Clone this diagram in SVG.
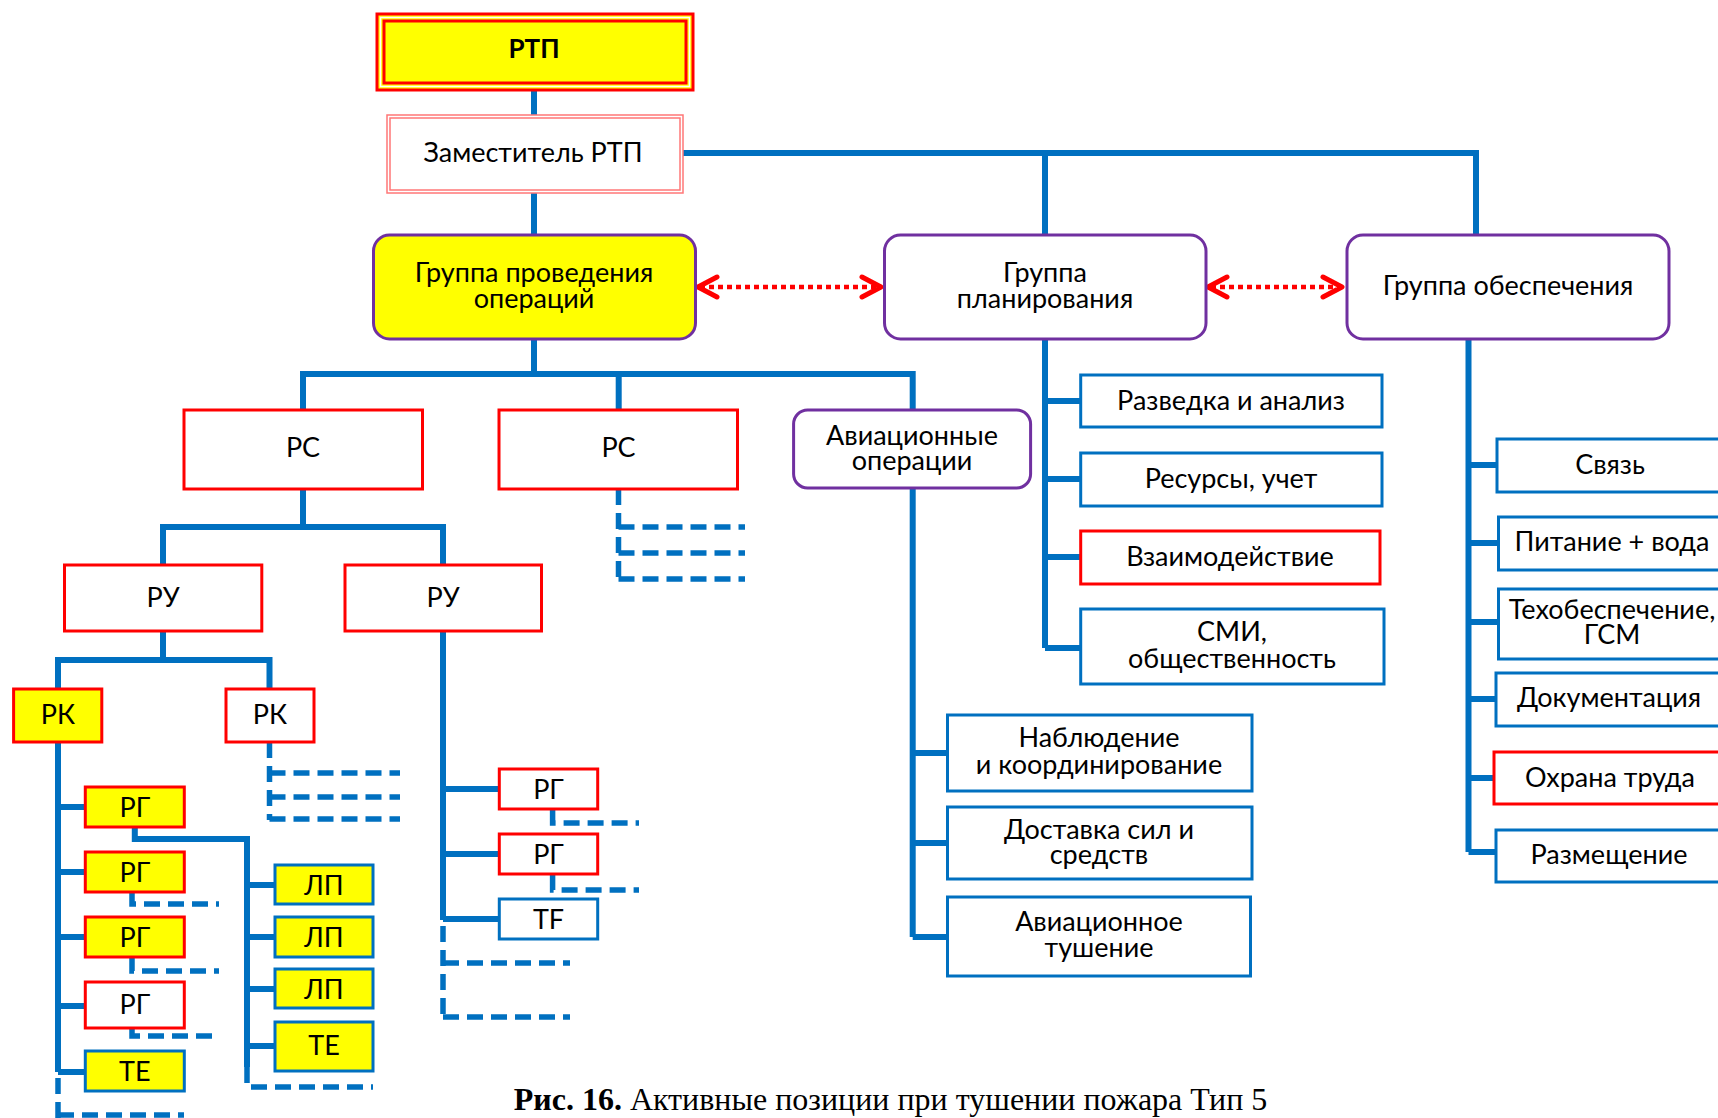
<svg xmlns="http://www.w3.org/2000/svg" width="1718" height="1118" viewBox="0 0 1718 1118">
<style>
.t{font-family:Lato,"Noto Sans",sans-serif;font-size:27px;fill:#000;text-anchor:middle;dominant-baseline:central}
.b{font-weight:bold;font-size:26px}
.c{fill:none;stroke:#0070C0;stroke-width:6}
.d{fill:none;stroke:#0070C0;stroke-width:5.5;stroke-dasharray:16 8}
.rb{fill:#fff;stroke:#FF0000;stroke-width:3}
.ry{fill:#FFFF00;stroke:#FF0000;stroke-width:3}
.bb{fill:#fff;stroke:#0070C0;stroke-width:3}
.by{fill:#FFFF00;stroke:#0070C0;stroke-width:3}
.pb{fill:#fff;stroke:#7030A0;stroke-width:3}
.py{fill:#FFFF00;stroke:#7030A0;stroke-width:3}
.ar{fill:none;stroke:#FF0000;stroke-width:4.5;stroke-dasharray:5 4}
.ah{fill:none;stroke:#FF0000;stroke-width:5;stroke-linecap:round;stroke-linejoin:round}
.cap{font-family:"Liberation Serif",serif;font-size:32px;fill:#000;text-anchor:middle}
</style>
<rect width="1718" height="1118" fill="#fff"/>
<g id="connectors">
<path class="c" d="M534 90V115M534 193V235M683 153H1476V235M1045 153V235"/>
<path class="c" d="M534 339V374M303 410V374H912.7V410M618.7 374V410"/>
<path class="c" d="M303 489V527M163 565V527H443V565"/>
<path class="c" d="M163 631V660M58 689V660H269.5V689"/>
<path class="c" d="M58 742V1072M58 807H86M58 872H86M58 937H86M58 1006H86M58 1072H86"/>
<path class="c" d="M134.8 827V839H247V1067M247 885H275M247 937H275M247 989H275M247 1046H275"/>
<path class="c" d="M443 631V920M443 789H499M443 854H499M443 919H499"/>
<path class="c" d="M1045 339V648M1045 401H1081M1045 479H1081M1045 557H1081M1045 648H1081"/>
<path class="c" d="M912.7 488V937M912.7 753H948M912.7 843H948M912.7 937H948"/>
<path class="c" d="M1468.5 339V852M1468.5 465H1497M1468.5 543H1497M1468.5 622H1497M1468.5 699H1497M1468.5 778H1497M1468.5 852H1497"/>
<path class="d" d="M618.5 489V580M618.5 527H745M618.5 553H745M618.5 579H745"/>
<path class="d" d="M269.5 742V820M269.5 773H400M269.5 797H400M269.5 819H400"/>
<path class="d" d="M132 892V904H219M132 957V971H219M132 1028V1036H219"/>
<path class="d" d="M58 1078V1118M58 1115H184"/>
<path class="d" d="M247 1067V1087H373"/>
<path class="d" d="M443 926V1017M443 963H570M443 1017H570"/>
<path class="d" d="M552.6 810V823H639M552.6 875V890H639"/>
<path class="ar" d="M700 287H879M1211 287H1339"/>
<path class="ah" d="M717 277L698 287L717 297M862 277L881 287L862 297M1227 277L1208 287L1227 297M1323 277L1342 287L1323 297"/>
</g>
<g id="rtp">
<rect x="377" y="14" width="316" height="76" fill="#FFFF00" stroke="#FF0000" stroke-width="3"/>
<rect x="380.5" y="17.5" width="309" height="69" fill="none" stroke="#fff" stroke-width="1.5"/>
<rect x="384" y="21" width="302" height="62" fill="none" stroke="#FF0000" stroke-width="3"/>
<text class="t b" x="534" y="48">РТП</text>
</g>
<g id="zam">
<rect x="387" y="115" width="296" height="78" fill="#fff" stroke="#FF7777" stroke-width="1.5"/>
<rect x="390" y="118" width="290" height="72" fill="none" stroke="#FF7777" stroke-width="1.5"/>
<text class="t" x="533" y="151">Заместитель РТП</text>
</g>
<g id="gpo">
<rect class="py" x="373.5" y="235" width="322" height="104" rx="16"/>
<text class="t" x="534" y="271">Группа проведения</text>
<text class="t" x="534" y="297">операций</text>
</g>
<g id="gpl">
<rect class="pb" x="884.5" y="235" width="321.5" height="104" rx="16"/>
<text class="t" x="1045" y="271">Группа</text>
<text class="t" x="1045" y="297">планирования</text>
</g>
<g id="gob">
<rect class="pb" x="1347" y="235" width="322" height="104" rx="16"/>
<text class="t" x="1508" y="284">Группа обеспечения</text>
</g>
<g id="rs1"><rect class="rb" x="184" y="410" width="238.5" height="79"/><text class="t" x="303" y="446">РС</text></g>
<g id="rs2"><rect class="rb" x="499" y="410" width="238.5" height="79"/><text class="t" x="618.5" y="446">РС</text></g>
<g id="avop"><rect class="pb" x="793.6" y="410" width="237" height="78" rx="14"/><text class="t" x="912" y="434">Авиационные</text><text class="t" x="912" y="459">операции</text></g>
<g id="ru1"><rect class="rb" x="64.5" y="565" width="197.3" height="66"/><text class="t" x="163" y="596">РУ</text></g>
<g id="ru2"><rect class="rb" x="345" y="565" width="196.5" height="66"/><text class="t" x="443" y="596">РУ</text></g>
<g id="rk1"><rect class="ry" x="13.6" y="689" width="88.2" height="53"/><text class="t" x="58" y="713">РК</text></g>
<g id="rk2"><rect class="rb" x="226" y="689" width="88" height="53"/><text class="t" x="270" y="713">РК</text></g>
<g id="rg1"><rect class="ry" x="85.3" y="787" width="99" height="40"/><text class="t" x="134.8" y="806">РГ</text></g>
<g id="rg2"><rect class="ry" x="85.3" y="852" width="99" height="40"/><text class="t" x="134.8" y="871">РГ</text></g>
<g id="rg3"><rect class="ry" x="85.3" y="917" width="99" height="40"/><text class="t" x="134.8" y="936">РГ</text></g>
<g id="rg4"><rect class="rb" x="85.3" y="982" width="99" height="46"/><text class="t" x="134.8" y="1003">РГ</text></g>
<g id="te1"><rect class="by" x="85.3" y="1051" width="99" height="40"/><text class="t" x="134.8" y="1070">ТЕ</text></g>
<g id="lp1"><rect class="by" x="275" y="865" width="98" height="39"/><text class="t" x="324" y="884">ЛП</text></g>
<g id="lp2"><rect class="by" x="275" y="917" width="98" height="40"/><text class="t" x="324" y="936">ЛП</text></g>
<g id="lp3"><rect class="by" x="275" y="969" width="98" height="39"/><text class="t" x="324" y="988">ЛП</text></g>
<g id="te2"><rect class="by" x="275" y="1022" width="98" height="49"/><text class="t" x="324" y="1044">ТЕ</text></g>
<g id="rg5"><rect class="rb" x="499.3" y="769" width="98.4" height="40"/><text class="t" x="548.5" y="788">РГ</text></g>
<g id="rg6"><rect class="rb" x="499.3" y="834" width="98.4" height="40"/><text class="t" x="548.5" y="853">РГ</text></g>
<g id="tf"><rect class="bb" x="499.3" y="899" width="98.4" height="40"/><text class="t" x="548.5" y="918">TF</text></g>
<g id="razv"><rect class="bb" x="1080.7" y="375" width="301.3" height="52"/><text class="t" x="1231" y="399">Разведка и анализ</text></g>
<g id="res"><rect class="bb" x="1080.7" y="453" width="301.3" height="53"/><text class="t" x="1231" y="477">Ресурсы, учет</text></g>
<g id="vz"><rect class="rb" x="1080.7" y="531" width="299.3" height="53"/><text class="t" x="1230" y="555">Взаимодействие</text></g>
<g id="smi"><rect class="bb" x="1080.7" y="609" width="303.3" height="75"/><text class="t" x="1232" y="630">СМИ,</text><text class="t" x="1232" y="657">общественность</text></g>
<g id="nab"><rect class="bb" x="947.5" y="715" width="304.5" height="76"/><text class="t" x="1099" y="736">Наблюдение</text><text class="t" x="1099" y="763">и координирование</text></g>
<g id="dost"><rect class="bb" x="947.5" y="807" width="304.5" height="72"/><text class="t" x="1099" y="828">Доставка сил и</text><text class="t" x="1099" y="853">средств</text></g>
<g id="avt"><rect class="bb" x="947.5" y="897" width="303" height="79"/><text class="t" x="1099" y="920">Авиационное</text><text class="t" x="1099" y="946">тушение</text></g>
<g id="sv"><rect class="bb" x="1497" y="439" width="230" height="53"/><text class="t" x="1610" y="463">Связь</text></g>
<g id="pit"><rect class="bb" x="1498.5" y="517" width="230" height="53"/><text class="t" x="1612" y="540">Питание + вода</text></g>
<g id="teh"><rect class="bb" x="1498.5" y="589" width="230" height="70"/><text class="t" x="1612" y="608">Техобеспечение,</text><text class="t" x="1612" y="633">ГСМ</text></g>
<g id="doc"><rect class="bb" x="1496" y="673" width="230" height="53"/><text class="t" x="1609" y="696">Документация</text></g>
<g id="ohr"><rect class="rb" x="1494" y="752" width="230" height="52"/><text class="t" x="1610" y="776">Охрана труда</text></g>
<g id="raz"><rect class="bb" x="1496" y="830" width="230" height="52"/><text class="t" x="1609" y="853">Размещение</text></g>
<text class="cap" x="890.5" y="1110"><tspan font-weight="bold">Рис. 16.</tspan> Активные позиции при тушении пожара Тип 5</text>
</svg>
